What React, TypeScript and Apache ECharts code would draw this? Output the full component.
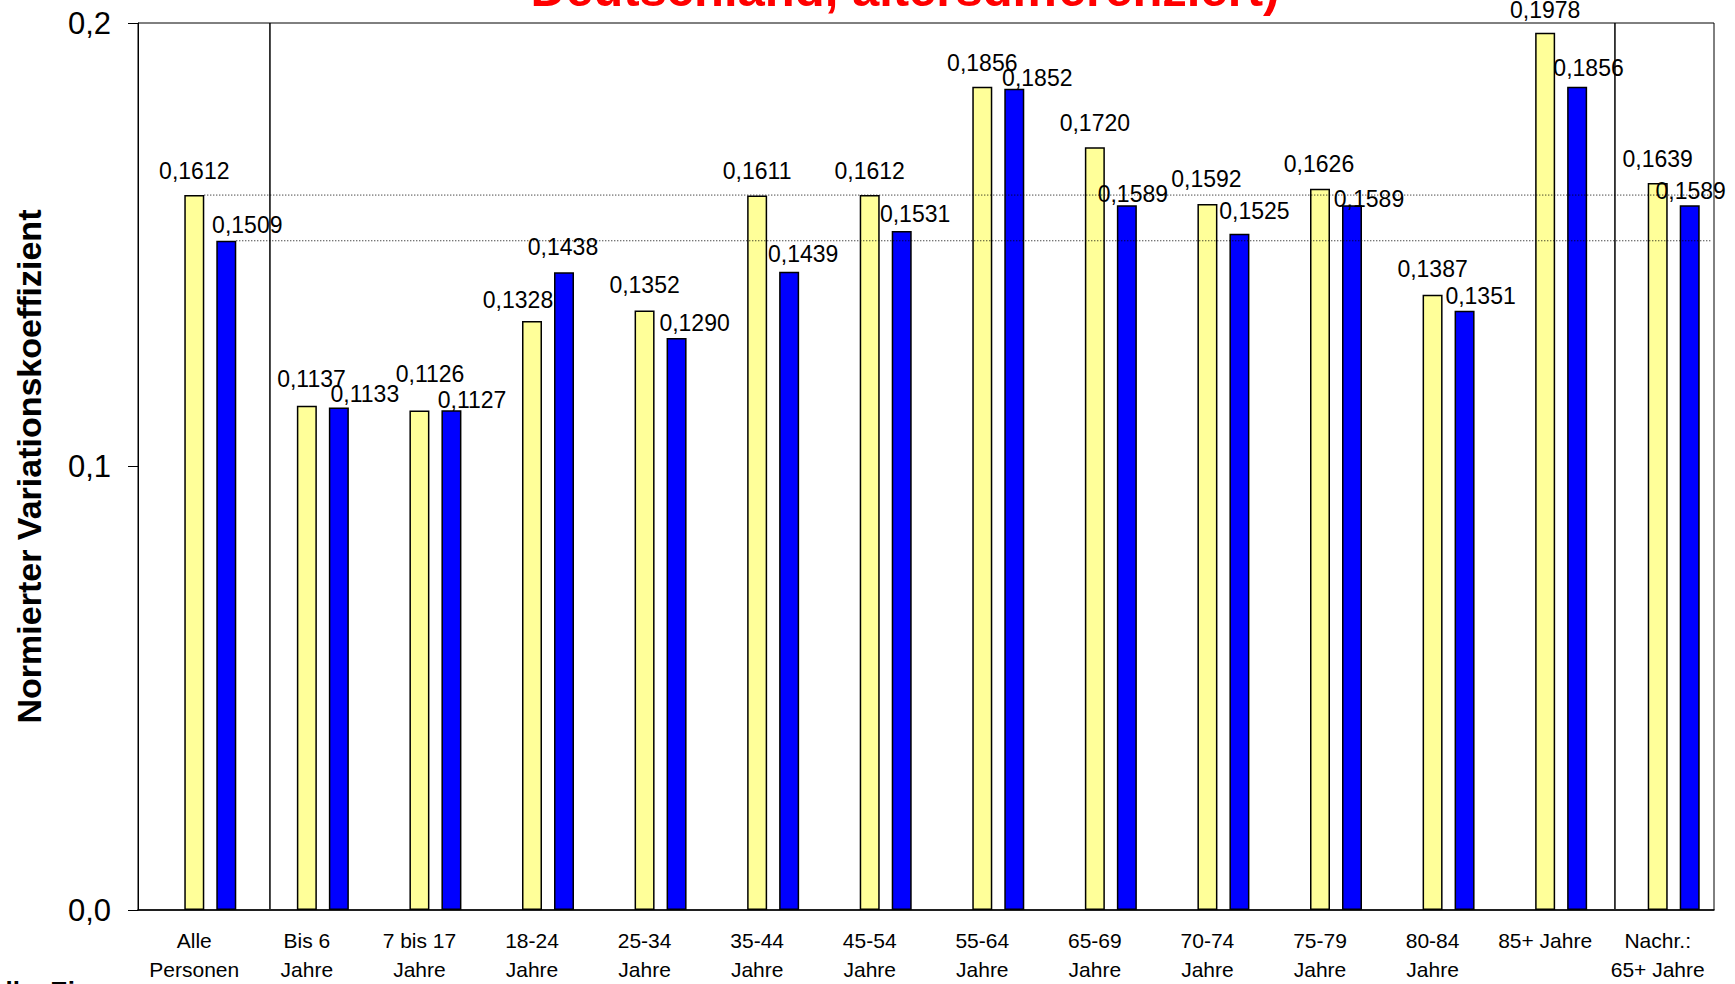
import React, { useEffect, useRef } from "react";
import * as echarts from "echarts";

const W = 1735;
const H = 984;

const categories = [
  "Alle\nPersonen",
  "Bis 6\nJahre",
  "7 bis 17\nJahre",
  "18-24\nJahre",
  "25-34\nJahre",
  "35-44\nJahre",
  "45-54\nJahre",
  "55-64\nJahre",
  "65-69\nJahre",
  "70-74\nJahre",
  "75-79\nJahre",
  "80-84\nJahre",
  "85+ Jahre",
  "Nachr.:\n65+ Jahre",
];

const yellowValues = [0.1612, 0.1137, 0.1126, 0.1328, 0.1352, 0.1611, 0.1612, 0.1856, 0.172, 0.1592, 0.1626, 0.1387, 0.1978, 0.1639];
const blueValues = [0.1509, 0.1133, 0.1127, 0.1438, 0.129, 0.1439, 0.1531, 0.1852, 0.1589, 0.1525, 0.1589, 0.1351, 0.1856, 0.1589];

const yTicks = [0, 0.1, 0.2];

// label placement tweaks (layout only): offset of label centre from bar-top centre
const yellowLabelDx = [0, 4.6, 10.6, -14, 0, 0, 0, 0, 0, -1, -1, 0, 0, 0];
const yellowLabelDy = [-24.5, -26.6, -36.5, -20.7, -25.5, -24.4, -24, -24, -24.5, -25, -24.4, -25.5, -23, -24];
const blueLabelDx = [21, 26, 20.6, -1, 18, 14, 13.4, 23, 6, 15, 17, 16, 11.4, 1];
const blueLabelDy = [-16, -14, -10, -25, -14.4, -18, -16.8, -10.8, -11.5, -22.8, -6.5, -15, -19, -14.7];

const FONT = '"Liberation Sans", Arial, sans-serif';
const GRID = { left: 138, right: 21, top: 23, bottom: 72 };
const BAR_W = 20;
const BAR_GAP = 12;
const LABEL_FS = 23;

const fmt4 = (v: number) => v.toFixed(4).replace(".", ",");

export default function App() {
  const ref = useRef<HTMLDivElement>(null);

  useEffect(() => {
    if (!ref.current) return;
    const chart = echarts.init(ref.current, null, { renderer: "svg" });

    const mkData = (vals: number[], dx: number[], dy: number[]) =>
      vals.map((v, i) => ({
        value: v,
        label: { offset: [dx[i], dy[i] + LABEL_FS / 2] },
      }));

    const barLabel = {
      show: true,
      position: "top",
      distance: 0,
      fontSize: LABEL_FS,
      lineHeight: LABEL_FS,
      color: "#000",
      fontFamily: FONT,
      formatter: (p: any) => fmt4(p.value),
    };

    const option: any = {
      animation: false,
      backgroundColor: "#fff",
      textStyle: { fontFamily: FONT },
      grid: {
        left: GRID.left,
        right: GRID.right,
        top: GRID.top,
        bottom: GRID.bottom,
        show: true,
        borderColor: "#000",
        borderWidth: 1,
        backgroundColor: "#fff",
      },
      xAxis: {
        type: "category",
        data: categories,
        axisTick: { show: false },
        axisLine: { lineStyle: { color: "#000", width: 1.5 } },
        axisLabel: {
          interval: 0,
          fontSize: 21,
          lineHeight: 29,
          color: "#000",
          margin: 16,
          fontFamily: FONT,
        },
      },
      yAxis: {
        type: "value",
        min: yTicks[0],
        max: yTicks[yTicks.length - 1],
        interval: 0.1,
        name: "Normierter Variationskoeffizient",
        nameLocation: "middle",
        nameRotate: 90,
        nameGap: 92,
        nameTextStyle: { fontSize: 34, fontWeight: "bold", color: "#000", fontFamily: FONT },
        splitLine: { show: false },
        axisLine: { show: true, lineStyle: { color: "#000", width: 1 } },
        axisTick: { show: true, length: 10, lineStyle: { color: "#000", width: 1 } },
        axisLabel: {
          fontSize: 31,
          color: "#000",
          margin: 27,
          fontFamily: FONT,
          formatter: (v: number) => v.toFixed(1).replace(".", ","),
        },
      },
      series: [
        {
          name: "leer",
          type: "bar",
          barWidth: BAR_W,
          barGap: (BAR_GAP / BAR_W) * 100 + "%",
          data: categories.map(() => null),
          silent: true,
        },
        {
          name: "Reihe 1",
          type: "bar",
          barWidth: BAR_W,
          barGap: (BAR_GAP / BAR_W) * 100 + "%",
          itemStyle: { color: "#FFFF99", borderColor: "#000", borderWidth: 1.5 },
          label: barLabel,
          data: mkData(yellowValues, yellowLabelDx, yellowLabelDy),
          z: 3,
        },
        {
          name: "Reihe 2",
          type: "bar",
          barWidth: BAR_W,
          barGap: (BAR_GAP / BAR_W) * 100 + "%",
          itemStyle: { color: "#0000FF", borderColor: "#000", borderWidth: 1.5 },
          label: barLabel,
          data: mkData(blueValues, blueLabelDx, blueLabelDy),
          z: 3,
        },
      ],
    };

    chart.setOption(option);

    const cx = (i: number) => chart.convertToPixel({ xAxisIndex: 0 }, i) as number;
    const yp = (v: number) => chart.convertToPixel({ yAxisIndex: 0 }, v) as number;
    const catW = cx(1) - cx(0);
    const gridRight = W - GRID.right;
    const gridTop = GRID.top;
    const gridBottom = H - GRID.bottom;
    const yellowOffset = 0;
    const blueOffset = BAR_W + BAR_GAP;

    const refY1 = yp(yellowValues[0]);
    const refY2 = yp(blueValues[0]);

    chart.setOption({
      graphic: [
        {
          type: "line",
          z: 10,
          shape: { x1: cx(0) + yellowOffset + BAR_W / 2, y1: refY1, x2: gridRight - 3, y2: refY1 },
          style: { stroke: "#000", lineWidth: 1, lineDash: [1, 2] },
        },
        {
          type: "line",
          z: 10,
          shape: { x1: cx(0) + blueOffset + BAR_W / 2, y1: refY2, x2: gridRight - 3, y2: refY2 },
          style: { stroke: "#000", lineWidth: 1, lineDash: [1, 2] },
        },
        {
          type: "line",
          z: 10,
          shape: { x1: cx(0) + 0.672 * catW, y1: gridTop, x2: cx(0) + 0.672 * catW, y2: gridBottom - 3 },
          style: { stroke: "#000", lineWidth: 1.5 },
        },
        {
          type: "line",
          z: 10,
          shape: { x1: cx(12) + 0.62 * catW, y1: gridTop, x2: cx(12) + 0.62 * catW, y2: gridBottom - 3 },
          style: { stroke: "#000", lineWidth: 1.5 },
        },
        {
          type: "text",
          z: 10,
          x: 905,
          y: -11,
          style: {
            text: "Deutschland, altersdifferenziert)",
            fontSize: 49,
            fontWeight: "bold",
            fontFamily: FONT,
            fill: "#FF0000",
            align: "center",
            verticalAlign: "middle",
          },
        },
        {
          type: "text",
          z: 10,
          x: -45,
          y: 990.5,
          style: {
            text: "Quelle: Eigene",
            fontSize: 26,
            fontWeight: "bold",
            fontFamily: FONT,
            fill: "#000",
            align: "left",
            verticalAlign: "middle",
          },
        },
      ],
    });

    return () => chart.dispose();
  }, []);

  return (
    <div
      ref={ref}
      style={{ position: "fixed", left: 0, top: 0, width: W, height: H, overflow: "hidden", background: "#fff" }}
    />
  );
}
